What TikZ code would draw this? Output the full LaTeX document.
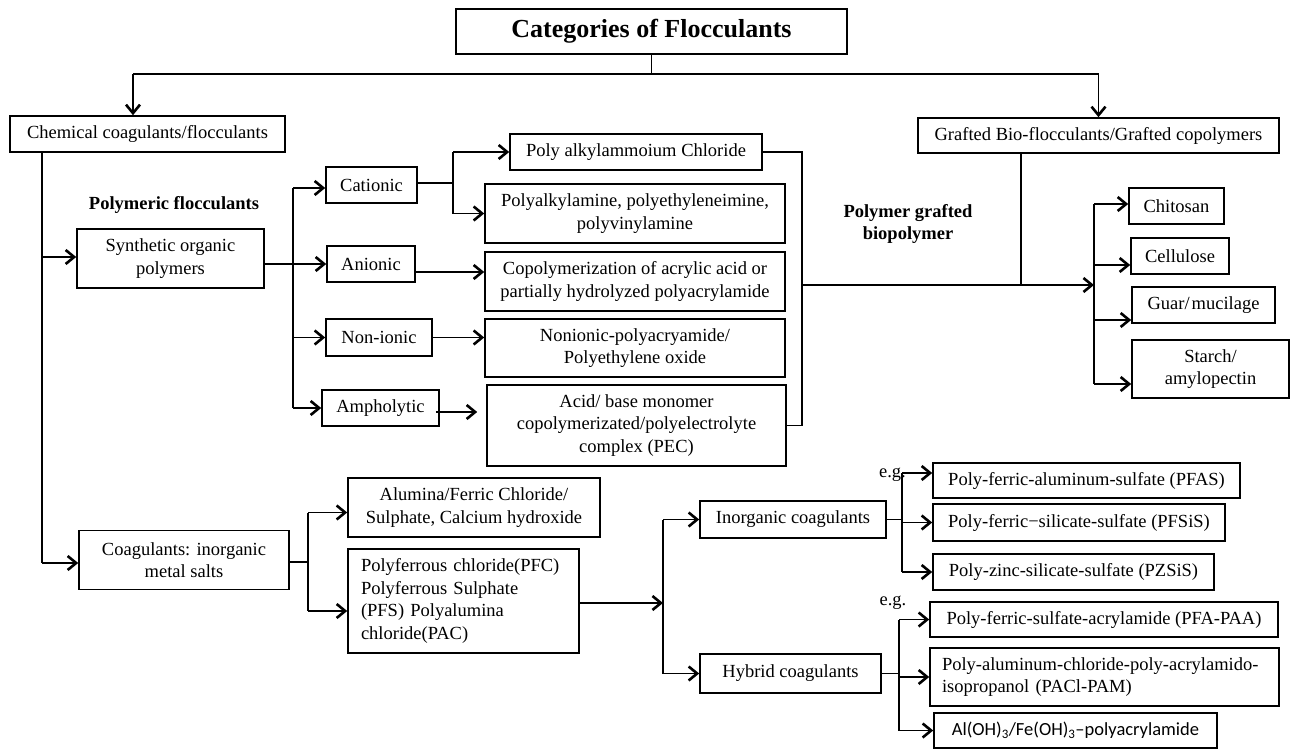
\documentclass[tikz,border=0pt]{standalone}
\usepackage{fontspec}
\setmainfont{Liberation Serif}
\newfontfamily\calib{Carlito}
\usetikzlibrary{arrows.meta}
\newcommand\fs{\fontsize{18.5}{22.5}\selectfont}
\newcommand\ttlfs{\fontsize{26}{30}\selectfont\bfseries}
\tikzset{
  box/.style={draw, line width=1.6pt, inner sep=0pt, align=center, font=\fs},
  lbox/.style={draw, line width=1.6pt, inner ysep=0pt, align=left, font=\fs},
  lbl/.style={inner sep=0pt, align=center, font=\fs},
  blbl/.style={inner sep=0pt, align=center, font=\fs\bfseries},
  ln/.style={line width=1.5pt},
  arr/.style={line width=1.5pt, -{Straight Barb[length=8.5pt,width=14pt,line width=2.6pt]}},
}
\begin{document}
\begin{tikzpicture}[x=1pt,y=-1pt]
\useasboundingbox (0,0) rectangle (1291,749);
% nodes
\node[box, font=\ttlfs, minimum width=391pt, minimum height=45pt] (title) at (651.5,31.5) {Categories of Flocculants};
\node[box, minimum width=275pt, minimum height=36pt] (chem) at (147.5,134) {Chemical coagulants/flocculants};
\node[box, minimum width=361pt, minimum height=35pt] (graft) at (1098.5,135.5) {Grafted Bio-flocculants/Grafted copolymers};
\node[blbl] (polyfloc) at (174,205) {Polymeric flocculants};
\node[box, minimum width=187pt, minimum height=59pt] (synth) at (170.5,258.5) {Synthetic organic\\polymers};
\node[box, minimum width=91pt, minimum height=36pt] (cat) at (371.5,185) {Cationic};
\node[box, minimum width=88pt, minimum height=36pt] (an) at (371,264) {Anionic};
\node[box, minimum width=106pt, minimum height=37pt] (non) at (379,337.5) {Non-ionic};
\node[box, minimum width=117pt, minimum height=36pt] (amph) at (380.5,408) {Ampholytic};
\node[box, minimum width=252pt, minimum height=36pt] (polyalk) at (636,152) {Poly alkylammoium Chloride};
\node[box, minimum width=300pt, minimum height=59pt] (polyam) at (635,213.5) {Polyalkylamine, polyethyleneimine,\\polyvinylamine};
\node[box, minimum width=300pt, minimum height=59pt] (copoly) at (635,281.5) {Copolymerization of acrylic acid or\\partially hydrolyzed polyacrylamide};
\node[box, minimum width=300pt, minimum height=58pt] (nonpoly) at (635,348) {Nonionic-polyacryamide/\\Polyethylene oxide};
\node[box, minimum width=299pt, minimum height=81pt] (acid) at (636.5,425.5) {Acid/ base monomer\\copolymerizated/polyelectrolyte\\complex (PEC)};
\node[blbl] (pgraft) at (908,224) {Polymer grafted\\biopolymer};
\node[box, minimum width=95pt, minimum height=36pt] (chit) at (1176.5,206) {Chitosan};
\node[box, minimum width=98pt, minimum height=36pt] (cell) at (1180,256) {Cellulose};
\node[box, minimum width=143pt, minimum height=36pt] (guar) at (1203.5,305) {Guar/\kern2pt mucilage};
\node[box, minimum width=157pt, minimum height=58pt] (starch) at (1210.5,369) {Starch/\\amylopectin};
\node[box, minimum width=210pt, minimum height=59pt] (coag) at (184,560) {Coagulants: inorganic\\metal salts};
\node[box, minimum width=252pt, minimum height=59pt] (alum) at (474,507.5) {Alumina/Ferric Chloride/\\Sulphate, Calcium hydroxide};
\node[lbox, inner xsep=13pt, text width=205pt, minimum height=104pt] (pfc) at (463.5,601) {\mbox{Polyferrous chloride(PFC)}\\Polyferrous Sulphate\\(PFS) Polyalumina\\chloride(PAC)};
\node[box, minimum width=186pt, minimum height=37pt] (inorg) at (793,519.5) {Inorganic coagulants};
\node[box, minimum width=181pt, minimum height=39pt] (hyb) at (790.5,673.5) {Hybrid coagulants};
\node[box, minimum width=307pt, minimum height=35pt] (pfas) at (1086.5,480.5) {Poly-ferric-aluminum-sulfate (PFAS)};
\node[box, minimum width=292pt, minimum height=37pt] (pfsis) at (1079,522.5) {Poly-ferric\textminus silicate-sulfate (PFSiS)};
\node[box, minimum width=281pt, minimum height=36pt] (pzsis) at (1073.5,572) {Poly-zinc-silicate-sulfate (PZSiS)};
\node[box, minimum width=348pt, minimum height=35pt] (pfa) at (1104,619.5) {Poly-ferric-sulfate-acrylamide (PFA-PAA)};
\node[lbox, inner xsep=12pt, text width=325pt, minimum height=58pt] (pacl) at (1104.5,677) {\mbox{Poly-aluminum-chloride-poly-acrylamido-}\\isopropanol (PACl-PAM)};
\node[box, minimum width=283pt, minimum height=35pt, font=\calib\fs] (alfe) at (1075.5,730.5) {Al(OH)\textsubscript{3}/Fe(OH)\textsubscript{3}\textendash polyacrylamide};
\node[lbl, anchor=east] (eg1) at (906,475) {e.g.};
\node[lbl] (eg2) at (893,603) {e.g.};
% top connectors
\coordinate (tl) at (133,74);
\coordinate (tr) at (1098.5,74);
\draw[ln] (title.south) -- (title.south |- tl);
\draw[ln] (tl) -- (tr);
\draw[arr] (tl) -- (tl |- chem.north);
\draw[arr] (tr) -- (graft.north);
% left trunk
\coordinate (lv) at (42,0);
\coordinate (syw) at ([yshift=1.5pt]synth.west);
\coordinate (cgw) at ([yshift=-3pt]coag.west);
\draw[ln] (lv |- chem.south) -- (lv |- cgw);
\draw[arr] (lv |- syw) -- (syw);
\draw[arr] (lv |- cgw) -- (cgw);
% polymer branch
\coordinate (b1) at (293,0);
\coordinate (sye) at ([yshift=-5.5pt]synth.east);
\coordinate (caw) at ([yshift=-3pt]cat.west);
\draw[arr] (sye) -- (sye -| an.west);
\draw[ln] (b1 |- caw) -- (b1 |- amph.west);
\draw[arr] (b1 |- caw) -- (caw);
\draw[arr] (b1 |- non.west) -- (non.west);
\draw[arr] (b1 |- amph.west) -- (amph.west);
\coordinate (f1) at (453,0);
\coordinate (cae) at ([yshift=2pt]cat.east);
\draw[ln] (cae) -- (cae -| f1);
\draw[ln] (f1 |- polyalk.west) -- (f1 |- polyam.west);
\draw[arr] (f1 |- polyalk.west) -- (polyalk.west);
\draw[arr] (f1 |- polyam.west) -- (polyam.west);
\coordinate (ane) at ([yshift=-8pt]an.east);
\draw[arr] (ane) -- (ane -| copoly.west);
\draw[arr] (non.east) -- (non.east -| nonpoly.west);
\coordinate (ae) at ([xshift=-4pt,yshift=-4pt]amph.east);
\coordinate (aw) at ([xshift=-9pt]acid.west);
\draw[arr] (ae) -- (ae -| aw);
% right collector
\coordinate (rc) at (802,285);
\coordinate (bf) at (1094,285);
\coordinate (gs) at (1021,285);
\draw[ln] (polyalk.east) -- (polyalk.east -| rc) -- (acid.east -| rc) -- (acid.east);
\draw[arr] (rc) -- (bf);
\draw[ln] (gs |- graft.south) -- (gs);
\coordinate (chw) at ([yshift=2pt]chit.west);
\coordinate (cew) at ([yshift=-9pt]cell.west);
\coordinate (guw) at ([yshift=-15pt]guar.west);
\coordinate (stw) at ([yshift=-15pt]starch.west);
\draw[ln] (chw -| bf) -- (stw -| bf);
\draw[arr] (chw -| bf) -- (chw);
\draw[arr] (cew -| bf) -- (cew);
\draw[arr] (guw -| bf) -- (guw);
\draw[arr] (stw -| bf) -- (stw);
% coagulant branch
\coordinate (f2) at (308,0);
\coordinate (alw) at ([yshift=-5pt]alum.west);
\coordinate (pfw) at ([yshift=-10pt]pfc.west);
\coordinate (cge) at ([yshift=-2pt]coag.east);
\draw[ln] (cge) -- (cge -| f2);
\draw[ln] (alw -| f2) -- (pfw -| f2);
\draw[arr] (alw -| f2) -- (alw);
\draw[arr] (pfw -| f2) -- (pfw);
\coordinate (f3) at (663,0);
\coordinate (pfe) at ([yshift=-2pt]pfc.east);
\draw[arr] (pfe) -- (pfe -| f3);
\draw[ln] (f3 |- inorg.west) -- (f3 |- hyb.west);
\draw[arr] (f3 |- inorg.west) -- (inorg.west);
\draw[arr] (f3 |- hyb.west) -- (hyb.west);
\coordinate (f4) at (902,0);
\coordinate (pfaw) at ([yshift=7.5pt]pfas.west);
\draw[ln] (inorg.east) -- (inorg.east -| f4);
\draw[ln] (pfaw -| f4) -- (f4 |- pzsis.west);
\draw[arr] (pfaw -| f4) -- (pfaw);
\draw[arr] (f4 |- pfsis.west) -- (pfsis.west);
\draw[arr] (f4 |- pzsis.west) -- (pzsis.west);
\coordinate (f5) at (899,0);
\draw[ln] (hyb.east) -- (hyb.east -| f5);
\draw[ln] (f5 |- pfa.west) -- (f5 |- alfe.west);
\draw[arr] (f5 |- pfa.west) -- (pfa.west);
\draw[arr] (f5 |- pacl.west) -- (pacl.west);
\draw[arr] (f5 |- alfe.west) -- (alfe.west);
\end{tikzpicture}
\end{document}
